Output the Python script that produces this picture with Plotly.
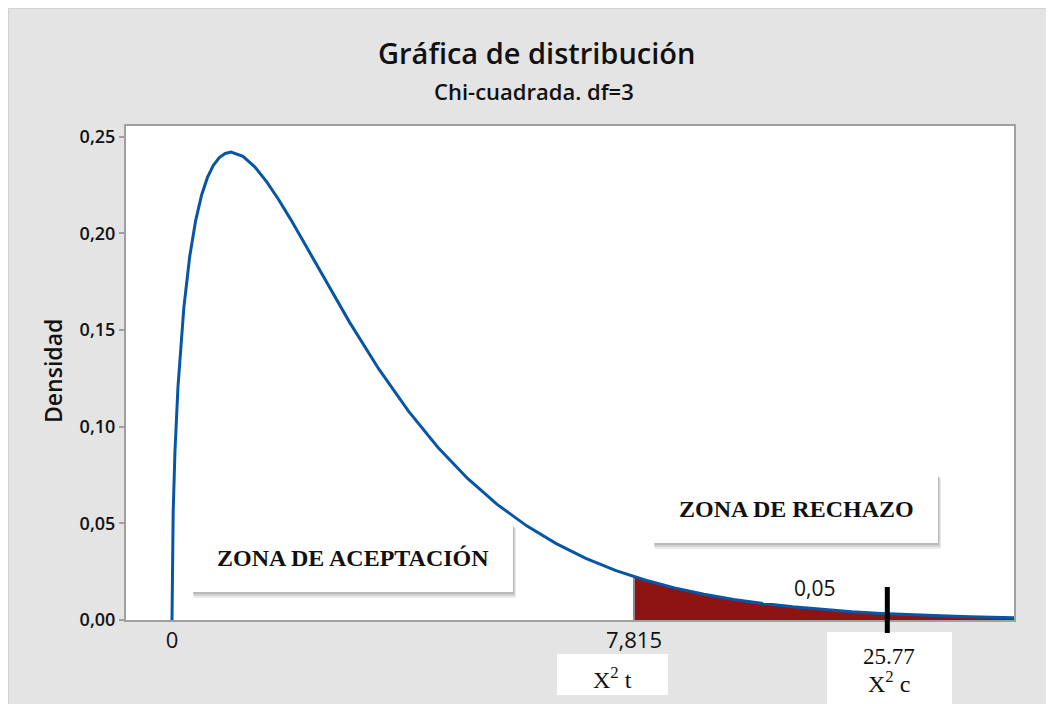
import plotly.graph_objects as go

# ---- data ----
X_VALS = [0, 0.01, 0.02, 0.05, 0.1, 0.2, 0.3, 0.4, 0.5, 0.6, 0.7, 0.8, 0.9, 1.0,
          1.2, 1.4, 1.6, 1.8, 2.0, 2.25, 2.5, 2.75, 3.0, 3.5, 4.0, 4.5, 5.0, 5.5,
          6.0, 6.5, 7.0, 7.5, 7.815, 8.0, 8.5, 9.0, 9.5, 10.0, 10.5, 11.0, 11.5,
          12.0, 12.5, 13.0, 13.5, 14.0, 14.25]
DENSITY = [0, 0.0397, 0.0558, 0.0870, 0.1200, 0.1614, 0.1881, 0.2066, 0.2197,
           0.2289, 0.2352, 0.2392, 0.2413, 0.2420, 0.2398, 0.2344, 0.2267, 0.2176,
           0.2076, 0.1943, 0.1807, 0.1673, 0.1542, 0.1297, 0.1080, 0.0892, 0.0732,
           0.0598, 0.0487, 0.0395, 0.0319, 0.0257, 0.0224, 0.0207, 0.0166, 0.0133,
           0.0106, 0.0085, 0.0068, 0.0054, 0.0043, 0.0034, 0.0027, 0.0022, 0.0017,
           0.0014, 0.0012]
CRIT_VALUE = 7.815
CRIT_LABEL = "7,815"
ALPHA_LABEL = "0,05"
ALPHA_POS = (10.86, 0.0163)
CALC_POS = 12.1           # where the calculated-statistic mark is drawn
CALC_LABEL = "25.77"
Y_TICKS = [0, 0.05, 0.10, 0.15, 0.20, 0.25]
X_TICKS = [0, CRIT_VALUE]
X_TICK_TEXT = ["0", CRIT_LABEL]

TITLE = "Gráfica de distribución"
SUBTITLE = "Chi-cuadrada. df=3"
Y_TITLE = "Densidad"

# page offset of the figure (body margin) and plot-area placement in page pixels
OFF = 8
W, H = 1054 - OFF, 704 - OFF
PL, PR, PT, PB = 126, 1014, 126, 620
L, T = PL - OFF, PT - OFF
R, B = OFF + W - PR, OFF + H - PB
PW, PH = PR - PL, PB - PT


def px(x):
    return (x - PL) / PW


def py(y):
    return (PB - y) / PH


SANS = "Open Sans, Noto Sans, sans-serif"
SERIF = "Liberation Serif, Times New Roman, serif"
BLUE = "#0756a6"
RED = "#8e1313"

tail_x = [x for x in X_VALS if x >= CRIT_VALUE]
tail_y = [d for x, d in zip(X_VALS, DENSITY) if x >= CRIT_VALUE]
crit_y = tail_y[0]

fig = go.Figure()
fig.add_trace(go.Scatter(x=tail_x, y=tail_y, mode="lines", fill="tozeroy",
                         fillcolor=RED, line=dict(width=0, color=RED),
                         hoverinfo="skip", showlegend=False))
fig.add_trace(go.Scatter(x=[CRIT_VALUE, CRIT_VALUE], y=[0, crit_y], mode="lines",
                         line=dict(color="#8a8a8a", width=2),
                         hoverinfo="skip", showlegend=False))
fig.add_trace(go.Scatter(x=X_VALS, y=DENSITY, mode="lines",
                         line=dict(color=BLUE, width=3),
                         showlegend=False))

shapes = []
# light border of the grey panel
shapes.append(dict(type="rect", xref="paper", yref="paper", x0=px(OFF + 0.5), x1=px(OFF + W + 10),
                   y0=py(OFF + H + 10), y1=py(OFF + 0.5), fillcolor="rgba(0,0,0,0)",
                   line=dict(width=1, color="#d2d2d2"), layer="above"))


def box(x0, y0, x1, y1, shadow=True):
    if shadow:
        for dx0, dx1, dy0, dy1, a in [(2, 3, 3, 6, 0.08), (1, 2, 2, 4, 0.10), (1, 1, 1, 2, 0.12)]:
            shapes.append(dict(type="rect", xref="paper", yref="paper",
                               x0=px(x0 + dx0), x1=px(x1 + dx1), y0=py(y1 + dy1), y1=py(y0 + dy0),
                               fillcolor="rgba(0,0,0,%.2f)" % a, line=dict(width=0), layer="above"))
    shapes.append(dict(type="rect", xref="paper", yref="paper",
                       x0=px(x0), x1=px(x1), y0=py(y1), y1=py(y0),
                       fillcolor="white", line=dict(width=0), layer="above"))


box(192, 525, 513, 592)
box(653, 475, 938, 543)
box(557, 654, 668, 695, shadow=False)
box(827, 632, 952, 720, shadow=False)

# calculated statistic mark
shapes.append(dict(type="line", xref="x", yref="paper", x0=CALC_POS, x1=CALC_POS,
                   y0=py(633), y1=py(587), line=dict(color="black", width=5), layer="above"))

ann = []


def text(x, y, t, size, family=SANS, weight=400, angle=0, color="#111111"):
    ann.append(dict(x=px(x), y=py(y), xref="paper", yref="paper", text=t,
                    showarrow=False, xanchor="center", yanchor="middle",
                    textangle=angle,
                    font=dict(family=family, size=size, color=color, weight=weight)))


text(536, 52, TITLE, 29, weight=600)
text(534, 91, SUBTITLE, 22, weight=600)
text(53, 371, Y_TITLE, 23, weight=600, angle=-90)
text(353, 558, "ZONA DE ACEPTACIÓN", 24, family=SERIF, weight=700)
text(796, 509, "ZONA DE RECHAZO", 24, family=SERIF, weight=700)
ann.append(dict(x=ALPHA_POS[0], y=ALPHA_POS[1], xref="x", yref="y", text=ALPHA_LABEL,
                showarrow=False, xanchor="center", yanchor="middle",
                font=dict(family=SANS, size=21, color="#111111")))
text(612, 678, "X<sup>2</sup> t", 24, family=SERIF)
text(889, 656, CALC_LABEL, 23, family=SERIF)
text(889, 682, "X<sup>2</sup> c", 24, family=SERIF)

fig.update_layout(
    width=W, height=H,
    margin=dict(l=L, r=R, t=T, b=B, autoexpand=False),
    paper_bgcolor="#e4e4e4",
    plot_bgcolor="white",
    separators=", ",
    shapes=shapes,
    annotations=ann,
    showlegend=False,
)
fig.update_xaxes(range=[-0.7781, 14.243], showgrid=False, zeroline=False,
                 showline=True, mirror=True, linecolor="#a0a0a0", linewidth=2,
                 tickvals=X_TICKS, ticktext=X_TICK_TEXT, ticks="",
                 tickfont=dict(family=SANS, size=22, color="#111111"))
fig.update_yaxes(range=[0, 0.2555], showgrid=False, zeroline=False,
                 showline=True, mirror=True, linecolor="#a0a0a0", linewidth=2,
                 tickvals=Y_TICKS, tickformat=".2f", ticks="outside", ticklen=5,
                 tickcolor="#a0a0a0", tickwidth=1.5,
                 tickfont=dict(family=SANS, size=18, color="#111111", weight=600))

fig.write_html("out.html")
